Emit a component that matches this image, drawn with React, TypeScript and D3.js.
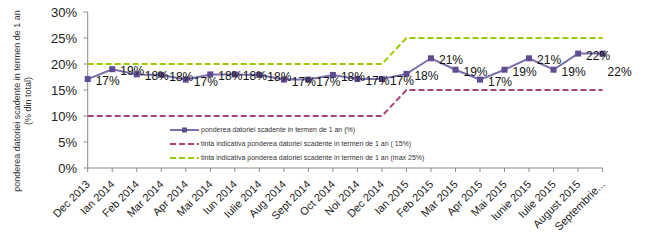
import React from "react"
import * as d3 from "d3"

const categories = [
  "Dec 2013", "Ian 2014", "Feb 2014", "Mar 2014", "Apr 2014", "Mai 2014",
  "Iun 2014", "Iulie 2014", "Aug 2014", "Sept 2014", "Oct 2014", "Noi 2014",
  "Dec 2014", "Ian 2015", "Feb 2015", "Mar 2015", "Apr 2015", "Mai 2015",
  "Iunie 2015", "Iulie 2015", "August 2015", "Septembrie...",
]
// ponderea datoriei scadente in termen de 1 an (%)
const pondere = [
  17.1, 19.0, 18.0, 17.9, 17.0, 18.0, 18.0, 17.9, 17.0, 17.0, 17.9, 17.1,
  17.1, 18.1, 21.1, 18.9, 17.0, 18.9, 21.1, 18.9, 22.0, 22.0,
]
const tintaMin = [
  10, 10, 10, 10, 10, 10, 10, 10, 10, 10, 10, 10, 10,
  15, 15, 15, 15, 15, 15, 15, 15, 15,
]
const tintaMax = [
  20, 20, 20, 20, 20, 20, 20, 20, 20, 20, 20, 20, 20,
  25, 25, 25, 25, 25, 25, 25, 25, 25,
]
const yTicks = [0, 5, 10, 15, 20, 25, 30]
const legendLabels = [
  "ponderea datoriei scadente in termen de 1 an (%)",
  "tinta indicativa ponderea datoriei scadente in termen de 1 an (  15%)",
  "tinta indicativa ponderea datoriei scadente in termen de 1 an (max 25%)",
]

const W = 648
const H = 242
const font = "'Liberation Sans', Arial, sans-serif"
const purpleLine = "#7a6fae"
const purpleMark = "#604c91"
const red = "#a8437a"
const green = "#99cc00"
const axisCol = "#8c8c8c"

export default function App() {
  const x = d3.scalePoint<string>().domain(categories).range([87.7, 602.6])
  const y = d3.scaleLinear().domain([0, 30]).range([168, 12])

  const line = d3
    .line<number>()
    .x((_, i) => x(categories[i])!)
    .y(d => y(d))

  const legend = [
    { label: legendLabels[0], color: purpleLine, dash: null, marker: true },
    { label: legendLabels[1], color: red, dash: "6,3", marker: false },
    { label: legendLabels[2], color: green, dash: "6,3", marker: false },
  ]

  return (
    <svg
      width={W}
      height={H}
      style={{ position: "absolute", left: 0, top: 0, background: "#fff" }}
      fontFamily={font}
    >
      {/* y axis title */}
      <g transform="translate(17,101) rotate(-90)" fontSize={9} fill="#333" textAnchor="middle">
        <text y={3}>ponderea datoriei scadente in termen de 1 an</text>
        <text y={14}>(% din total)</text>
      </g>

      {/* y axis */}
      <line x1={87.7} x2={87.7} y1={y(30)} y2={y(0)} stroke={axisCol} />
      {yTicks.map(t => (
        <g key={t} transform={`translate(0,${y(t)})`}>
          <line x1={83.5} x2={87.7} stroke={axisCol} />
          <text x={77} dy="0.36em" textAnchor="end" fontSize={13} fill="#222">
            {t}%
          </text>
        </g>
      ))}

      {/* x axis */}
      <line x1={87.7} x2={602.6} y1={y(0)} y2={y(0)} stroke={axisCol} />
      {categories.map(c => (
        <g key={c}>
          <line x1={x(c)} x2={x(c)} y1={y(0)} y2={y(0) + 4} stroke={axisCol} />
          <text
            transform={`translate(${x(c)! + 3},${y(0) + 17}) rotate(-45)`}
            textAnchor="end"
            fontSize={11}
            fill="#222"
          >
            {c}
          </text>
        </g>
      ))}

      {/* target lines */}
      <path d={line(tintaMax)!} fill="none" stroke={green} strokeWidth={2} strokeDasharray="6,3" />
      <path d={line(tintaMin)!} fill="none" stroke={red} strokeWidth={2} strokeDasharray="6,3" />

      {/* main series */}
      <path d={line(pondere)!} fill="none" stroke={purpleLine} strokeWidth={2} />
      {pondere.map((v, i) => (
        <rect
          key={i}
          x={x(categories[i])! - 3}
          y={y(v) - 3}
          width={6}
          height={6}
          fill={purpleMark}
        />
      ))}
      {pondere.map((v, i) => {
        const last = i === pondere.length - 1
        return (
          <text
            key={"l" + i}
            x={x(categories[i])! + (last ? 5 : 8)}
            y={y(v) + (last ? 22 : 6)}
            fontSize={12}
            fill="#111"
          >
            {d3.format(".0f")(v)}%
          </text>
        )
      })}

      {/* legend */}
      {legend.map((l, i) => {
        const ly = 130 + i * 14
        return (
          <g key={l.label}>
            <line
              x1={170}
              x2={199}
              y1={ly}
              y2={ly}
              stroke={l.color}
              strokeWidth={2}
              strokeDasharray={l.dash ?? undefined}
            />
            {l.marker && <rect x={182} y={ly - 2.5} width={5} height={5} fill={purpleMark} />}
            <text x={201} y={ly} dy="0.35em" fontSize={7} fill="#333">
              {l.label}
            </text>
          </g>
        )
      })}
    </svg>
  )
}
